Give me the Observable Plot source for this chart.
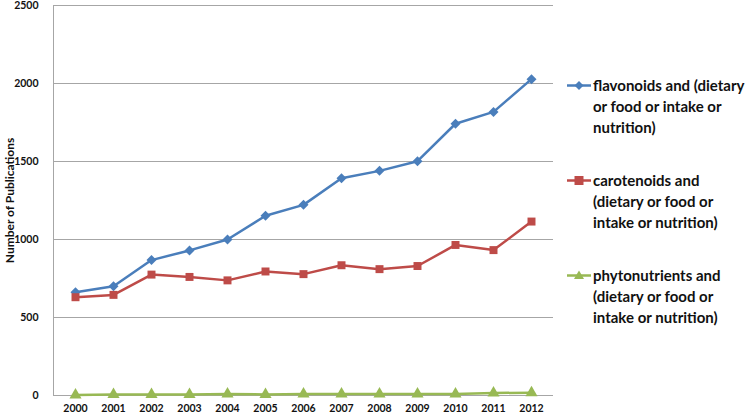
<!DOCTYPE html>
<html><head><meta charset="utf-8">
<script src="https://cdn.jsdelivr.net/npm/d3@7"></script>
<script src="https://cdn.jsdelivr.net/npm/@observablehq/plot@0.6"></script>
<style>
body{margin:0;background:#fff;font-family:Lato,"Open Sans",sans-serif;}
#wrap{position:relative;width:752px;height:416px;}
#legend{position:absolute;left:567px;top:0;width:185px;}
.item{position:absolute;left:0;display:flex;align-items:flex-start;}
.item svg{flex:none;margin-top:0.5px;}
.item div{font-size:15px;font-weight:bold;line-height:21px;color:#111;margin-left:2px;white-space:nowrap;}
g[aria-label="y-axis label"] text{font-size:12px;}
</style></head>
<body><div id="wrap"><div id="chart"></div><div id="legend"></div></div>
<script>
const years = ["2000","2001","2002","2003","2004","2005","2006","2007","2008","2009","2010","2011","2012"];
const flavonoids = [662,700,868,930,1000,1152,1222,1392,1440,1502,1742,1818,2028];
const carotenoids = [630,645,775,760,738,795,778,835,810,830,965,932,1115];
const phytonutrients = [3,6,6,7,10,7,10,10,10,10,10,16,18];
const seriesNames = ["flavonoids and (dietary or food or intake or nutrition)",
  "carotenoids and (dietary or food or intake or nutrition)",
  "phytonutrients and (dietary or food or intake or nutrition)"];
const legendLines = [["flavonoids and (dietary","or food or intake or","nutrition)"],
  ["carotenoids and","(dietary or food or","intake or nutrition)"],
  ["phytonutrients and","(dietary or food or","intake or nutrition)"]];
const colors = ["#4a7ebb","#be4b48","#98b954"];
const symbols = ["diamond2","square","triangle"];
const yTicks = [0,500,1000,1500,2000,2500];

const rows = [];
[flavonoids,carotenoids,phytonutrients].forEach((vals,i)=>vals.forEach((v,j)=>rows.push({year:years[j],value:v,series:seriesNames[i]})));

const chart = Plot.plot({
  width:752,height:416,
  marginLeft:53,marginRight:199,marginTop:5,marginBottom:21,
  style:{fontFamily:"Lato, 'Open Sans', sans-serif",fontSize:"10.5px",fontWeight:"bold",color:"#111",overflow:"visible"},
  x:{type:"point",domain:years,padding:0.5,label:null,tickSize:0,tickPadding:9},
  y:{domain:[0,2500],ticks:yTicks,tickFormat:d3.format("d"),label:"Number of Publications",labelAnchor:"center",labelArrow:"none",labelOffset:48,tickSize:0,tickPadding:15},
  color:{domain:seriesNames,range:colors},
  symbol:{domain:seriesNames,range:symbols},
  marks:[
    Plot.gridY(yTicks,{stroke:"#a6a6a6",strokeOpacity:1,strokeWidth:1}),
    Plot.frame({anchor:"left",stroke:"#a6a6a6"}),
    Plot.line(rows,{x:"year",y:"value",z:"series",stroke:"series",strokeWidth:2.5}),
    Plot.dot(rows,{x:"year",y:"value",fill:"series",symbol:"series",r:4.5,stroke:null})
  ]
});
document.getElementById("chart").appendChild(chart);

const legend = document.getElementById("legend");
const tops = [74.5,169.5,264.5];
const pathFor = {diamond2:"M12,6 L16.5,10.5 L12,15 L7.5,10.5 Z",square:"M7.5,6 L16.5,6 L16.5,15 L7.5,15 Z",triangle:"M12,5.5 L17,14 L7,14 Z"};
legendLines.forEach((lines,i)=>{
  const it = document.createElement("div");
  it.className="item"; it.style.top=tops[i]+"px";
  it.innerHTML = `<svg width="24" height="21"><line x1="0" x2="24" y1="10.5" y2="10.5" stroke="${colors[i]}" stroke-width="2.5"/><path d="${pathFor[symbols[i]]}" fill="${colors[i]}"/></svg><div>${lines.join("<br>")}</div>`;
  legend.appendChild(it);
});
</script></body></html>
